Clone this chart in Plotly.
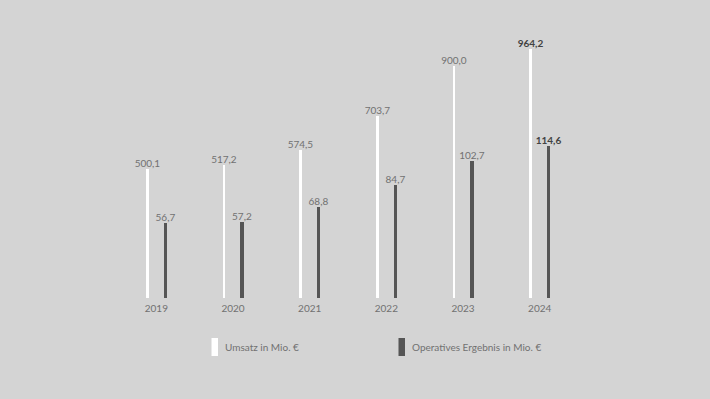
import plotly.graph_objects as go

years = [2019, 2020, 2021, 2022, 2023, 2024]
umsatz = [500.1, 517.2, 574.5, 703.7, 900.0, 964.2]
ergebnis = [56.7, 57.2, 68.8, 84.7, 102.7, 114.6]
tick_labels = ["2019", "2020", "2021", "2022", "2023", "2024"]
legend_labels = ["Umsatz in Mio. €", "Operatives Ergebnis in Mio. €"]

BG = "#d4d4d4"
WHITE = "#ffffff"
DARK = "#555555"
LABEL = "#717171"
BOLD = "#424242"
FONT = "Lato"
FS = 10

W, H = 710, 399
L, R, T, B = 118, 132, 40, 101  # plot area: x 118..578, y 40..298


def fmt(v, last):
    s = f"{v:.1f}".replace(".", ",")
    return f"<b>{s}</b>" if last else s


n = len(years)
u_text = [fmt(v, i == n - 1) for i, v in enumerate(umsatz)]
e_text = [fmt(v, i == n - 1) for i, v in enumerate(ergebnis)]
colors_txt = [BOLD if i == n - 1 else LABEL for i in range(n)]

fig = go.Figure()
fig.add_trace(go.Bar(
    x=years, y=umsatz, width=0.035, offset=-0.135,
    marker=dict(color=WHITE, line=dict(width=0)),
    text=u_text, textposition="outside", constraintext="none", cliponaxis=False,
    textfont=dict(family=FONT, size=FS, color=colors_txt),
    name=legend_labels[0], showlegend=False, yaxis="y",
))
fig.add_trace(go.Bar(
    x=years, y=ergebnis, width=0.04, offset=0.097,
    marker=dict(color=DARK, line=dict(width=0)),
    text=e_text, textposition="outside", constraintext="none", cliponaxis=False,
    textfont=dict(family=FONT, size=FS, color=colors_txt),
    name=legend_labels[1], showlegend=False, yaxis="y2",
))

pw = W - L - R
ph = H - T - B


def px_x(px):
    return (px - L) / pw


def px_y(py):
    return (H - B - py) / ph


# custom legend
legend_items = [(211.5, WHITE, legend_labels[0]), (398.5, DARK, legend_labels[1])]
for x0, col, lab in legend_items:
    fig.add_shape(type="rect", xref="paper", yref="paper",
                  x0=px_x(x0), x1=px_x(x0 + 6.5), y0=px_y(356), y1=px_y(338),
                  fillcolor=col, line=dict(width=0))
    fig.add_annotation(xref="paper", yref="paper", x=px_x(x0 + 11.5), y=px_y(347),
                       text=lab, showarrow=False, xanchor="left", yanchor="middle",
                       font=dict(family=FONT, size=FS, color=LABEL))

fig.update_layout(
    width=W, height=H,
    margin=dict(l=L, r=R, t=T, b=B),
    paper_bgcolor=BG, plot_bgcolor=BG,
    barmode="overlay",
    bargap=0,
    xaxis=dict(range=[2018.5, 2024.5], tickvals=years, ticktext=tick_labels,
               showgrid=False, zeroline=False, showline=False, ticks="",
               ticklabelstandoff=3,
               tickfont=dict(family=FONT, size=FS, color=LABEL)),
    yaxis=dict(range=[0, 1000], visible=False, showgrid=False, zeroline=False),
    yaxis2=dict(range=[0, 194], visible=False, showgrid=False, zeroline=False,
                overlaying="y", side="right"),
    font=dict(family=FONT, color=LABEL),
)

fig.write_html(
    "out.html",
    config={"displayModeBar": False},
    post_script="document.body.style.margin='0';document.body.style.padding='0';"
                "document.body.style.background='" + BG + "';",
)
